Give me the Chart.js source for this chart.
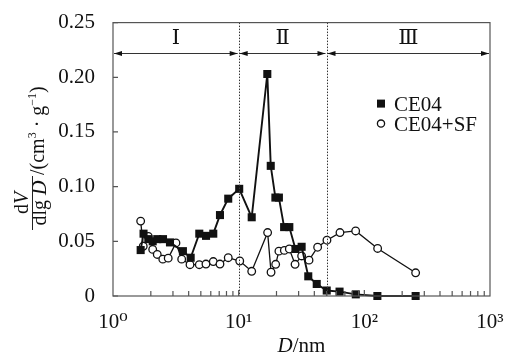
<!DOCTYPE html>
<html>
<head>
<meta charset="utf-8">
<script src="https://cdn.jsdelivr.net/npm/chart.js@4"></script>
<style>
  html, body { margin: 0; padding: 0; background: #fff; }
  #wrap { width: 510px; height: 355px; }
</style>
</head>
<body>
<div id="wrap"><canvas id="chart" width="510" height="355"></canvas></div>
<script>
// Data
const ce04D = [1.66, 1.75, 1.91, 2.07, 2.25, 2.5, 2.84, 3.6, 4.15, 4.86, 5.5, 6.28, 7.1, 8.26, 10.1, 12.7, 16.9, 18.0, 19.6, 20.9, 23.0, 25.3, 28.3, 31.7, 35.8, 41.8, 50.2, 63.5, 85.5, 127, 256];
const ce04V = [0.042, 0.057, 0.052, 0.050, 0.052, 0.052, 0.049, 0.041, 0.035, 0.057, 0.055, 0.057, 0.074, 0.089, 0.098, 0.072, 0.203, 0.119, 0.090, 0.090, 0.063, 0.063, 0.043, 0.045, 0.018, 0.011, 0.005, 0.004, 0.0015, 0, 0];

const sfD = [1.66, 1.74, 1.91, 2.07, 2.25, 2.49, 2.75, 3.17, 3.52, 4.10, 4.86, 5.49, 6.28, 7.10, 8.26, 10.2, 12.7, 17.0, 18.1, 19.7, 20.9, 23.1, 25.3, 28.1, 31.7, 36.3, 42.5, 50.4, 64.0, 85.3, 127.6, 256];
const sfV = [0.0685, 0.0455, 0.0545, 0.0426, 0.038, 0.0337, 0.0346, 0.0485, 0.0337, 0.0286, 0.0286, 0.0292, 0.0315, 0.0292, 0.035, 0.032, 0.0226, 0.058, 0.0217, 0.029, 0.041, 0.0417, 0.043, 0.029, 0.0366, 0.0328, 0.0446, 0.051, 0.058, 0.0595, 0.0435, 0.0212];

const seriesNames = ['CE04', 'CE04+SF'];
const yTicks = [0, 0.05, 0.10, 0.15, 0.20, 0.25];
const xDecades = [1, 10, 100, 1000];
const xTickLabels = ['10\u2070', '10\u00b9', '10\u00b2', '10\u00b3'];
const regionBounds = [1, 10, 50, 1000];
const regionLabels = ['\u2160', '\u2161', '\u2162'];

const SERIF = '"Liberation Serif", "DejaVu Serif", serif';
const ink = '#111';
const frame = '#555';

const toPoints = (xs, ys) => xs.map((x, i) => ({ x: x, y: ys[i] }));

// draw a line of text made of runs (normal / italic / superscript)
function drawRuns(ctx, runs, x, y, size, align) {
  const fontFor = r => (r.italic ? 'italic ' : '') + Math.round(r.sup ? size * 0.62 : size) + 'px ' + SERIF;
  let total = 0;
  runs.forEach(r => { ctx.font = fontFor(r); total += ctx.measureText(r.t).width; });
  let cx = align === 'center' ? x - total / 2 : x;
  ctx.textAlign = 'left';
  ctx.textBaseline = 'alphabetic';
  runs.forEach(r => {
    ctx.font = fontFor(r);
    ctx.fillText(r.t, cx, r.sup ? y - size * 0.42 : y);
    cx += ctx.measureText(r.t).width;
  });
  return total;
}

const decorPlugin = {
  id: 'decor',
  afterDatasetsDraw(chart) {
    const ctx = chart.ctx;
    const area = chart.chartArea;
    const xs = chart.scales.x;
    const ys = chart.scales.y;
    ctx.save();

    // region separators (dotted)
    ctx.strokeStyle = '#333';
    ctx.lineWidth = 1;
    ctx.setLineDash([1.5, 1.5]);
    regionBounds.slice(1, -1).forEach(b => {
      const px = Math.round(xs.getPixelForValue(b)) + 0.5;
      ctx.beginPath();
      ctx.moveTo(px, area.top);
      ctx.lineTo(px, area.bottom);
      ctx.stroke();
    });
    ctx.setLineDash([]);

    // double arrows + roman numerals
    const ay = Math.round(ys.getPixelForValue(0.2225)) + 0.5;
    const ly = ys.getPixelForValue(0.2355);
    ctx.fillStyle = ink;
    ctx.strokeStyle = '#333';
    for (let i = 0; i < regionLabels.length; i++) {
      const x0 = xs.getPixelForValue(regionBounds[i]) + 1;
      const x1 = xs.getPixelForValue(regionBounds[i + 1]) - 1;
      ctx.beginPath();
      ctx.moveTo(x0, ay);
      ctx.lineTo(x1, ay);
      ctx.stroke();
      [[x0, 1], [x1, -1]].forEach(([px, dir]) => {
        ctx.beginPath();
        ctx.moveTo(px, ay);
        ctx.lineTo(px + dir * 8, ay - 2.5);
        ctx.lineTo(px + dir * 8, ay + 2.5);
        ctx.closePath();
        ctx.fill();
      });
      ctx.font = '21px ' + SERIF;
      ctx.textAlign = 'center';
      ctx.textBaseline = 'middle';
      ctx.fillText(regionLabels[i], (x0 + x1) / 2, ly);
    }

    // frame
    ctx.strokeStyle = frame;
    ctx.lineWidth = 1.2;
    ctx.strokeRect(area.left, area.top, area.right - area.left, area.bottom - area.top);

    // inward ticks on left axis
    ctx.beginPath();
    yTicks.forEach(v => {
      const py = ys.getPixelForValue(v);
      ctx.moveTo(area.left, py);
      ctx.lineTo(area.left + 5, py);
    });
    // inward ticks on bottom axis (log, minor 2..9)
    for (let d = 0; d < xDecades.length - 1; d++) {
      for (let m = 1; m <= 9; m++) {
        const v = xDecades[d] * m;
        if (v <= xs.min || v >= xs.max) continue;
        const px = xs.getPixelForValue(v);
        ctx.moveTo(px, area.bottom);
        ctx.lineTo(px, area.bottom - (m === 1 ? 6 : 5));
      }
    }
    ctx.stroke();

    // legend
    const lx = area.left + 268;
    const rows = [area.top + 81, area.top + 101];
    chart.data.datasets.forEach((ds, i) => {
      const py = rows[i];
      ctx.lineWidth = 1.3;
      ctx.strokeStyle = ink;
      if (ds.pointStyle === 'rect') {
        ctx.fillStyle = ink;
        ctx.fillRect(lx - 4, py - 4, 8, 8);
      } else {
        ctx.fillStyle = '#fff';
        ctx.beginPath();
        ctx.arc(lx, py, 3.6, 0, Math.PI * 2);
        ctx.fill();
        ctx.stroke();
      }
      ctx.fillStyle = ink;
      drawRuns(ctx, [{ t: ds.label }], lx + 13, py + 7.5, 21, 'left');
    });

    // x title
    ctx.fillStyle = ink;
    drawRuns(ctx, [{ t: 'D', italic: true }, { t: '/nm' }], (area.left + area.right) / 2, 352, 21, 'center');

    // y title (fraction + units), rotated
    ctx.translate(32, 203);
    ctx.rotate(-Math.PI / 2);
    drawRuns(ctx, [{ t: 'd' }, { t: 'V', italic: true }], 0, -4, 20, 'center');
    drawRuns(ctx, [{ t: 'dlg ' }, { t: 'D', italic: true }], 0, 14, 20, 'center');
    ctx.strokeStyle = '#222';
    ctx.lineWidth = 1;
    ctx.beginPath();
    ctx.moveTo(-27, 0.5);
    ctx.lineTo(27, 0.5);
    ctx.stroke();
    drawRuns(ctx, [{ t: '/(cm' }, { t: '3', sup: true }, { t: ' \u00b7 g' }, { t: '\u2212' + '1', sup: true }, { t: ')' }], 28, 12, 20, 'left');

    ctx.restore();
  }
};

new Chart(document.getElementById('chart'), {
  type: 'line',
  data: {
    datasets: [
      {
        label: seriesNames[0],
        data: toPoints(ce04D, ce04V),
        borderColor: ink,
        borderWidth: 1.9,
        pointStyle: 'rect',
        pointRadius: 5.7,
        pointBackgroundColor: ink,
        pointBorderColor: ink,
        pointBorderWidth: 0,
        tension: 0,
        clip: false
      },
      {
        label: seriesNames[1],
        data: toPoints(sfD, sfV),
        borderColor: ink,
        borderWidth: 1.3,
        pointStyle: 'circle',
        pointRadius: 3.8,
        pointBackgroundColor: '#fff',
        pointBorderColor: ink,
        pointBorderWidth: 1.3,
        tension: 0,
        clip: false
      }
    ]
  },
  options: {
    responsive: false,
    animation: false,
    layout: { padding: { left: 0, right: 20, top: 16, bottom: 0 } },
    plugins: { legend: { display: false }, tooltip: { enabled: false } },
    scales: {
      x: {
        type: 'logarithmic',
        min: 1,
        max: 1000,
        grid: { display: false },
        border: { display: false },
        afterFit: s => { s.height = 59; },
        afterBuildTicks: s => { s.ticks = xDecades.map(v => ({ value: v })); },
        ticks: {
          autoSkip: false,
          maxRotation: 0,
          padding: 6,
          color: ink,
          font: { family: SERIF, size: 21 },
          callback: v => xTickLabels[xDecades.indexOf(v)]
        }
      },
      y: {
        min: 0,
        max: 0.25,
        grid: { display: false },
        border: { display: false },
        afterFit: s => { s.width = 113; },
        afterBuildTicks: s => { s.ticks = yTicks.map(v => ({ value: v })); },
        ticks: {
          padding: 10,
          color: ink,
          font: { family: SERIF, size: 21 },
          callback: v => (v === 0 ? '0' : v.toFixed(2))
        }
      }
    }
  },
  plugins: [decorPlugin]
});
</script>
</body>
</html>
